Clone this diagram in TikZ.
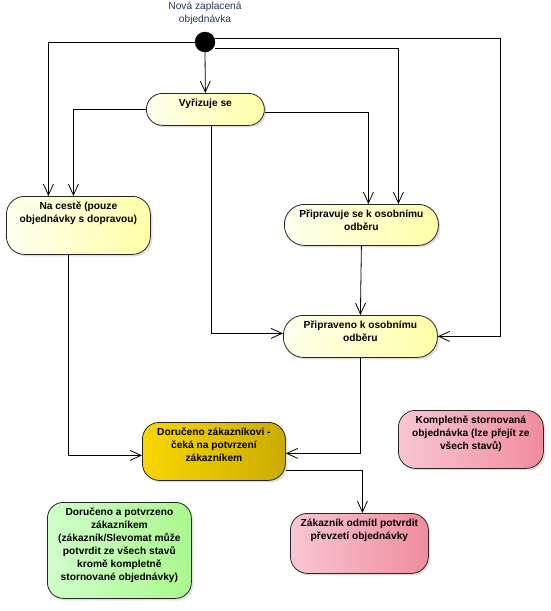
\documentclass[tikz,border=0pt]{standalone}
\usepackage{fontspec}
\setmainfont{Liberation Sans}
\usetikzlibrary{arrows.meta, calc, shadows}
\definecolor{ylwL}{RGB}{255,255,238}
\definecolor{ylwR}{RGB}{255,255,168}
\definecolor{goldL}{RGB}{250,214,0}
\definecolor{goldR}{RGB}{202,172,0}
\definecolor{pinkL}{RGB}{249,198,210}
\definecolor{pinkR}{RGB}{240,140,158}
\definecolor{grnL}{RGB}{208,255,202}
\definecolor{grnR}{RGB}{170,248,142}
\definecolor{titlecol}{RGB}{40,52,92}
\newcommand{\sttext}[3]{\parbox[c][#2][t]{#1}{\centering\rule{0pt}{9.5pt}#3}}
\tikzset{
    state/.style = {draw=black!85, line width=0.8pt, inner sep=4pt, anchor=north west,
        font=\fontsize{10.2}{13}\selectfont\bfseries,
        drop shadow={shadow xshift=2pt, shadow yshift=-2pt, opacity=0.25}},
    ylw/.style = {state, left color=ylwL, right color=ylwR},
    gold/.style = {state, left color=goldL, right color=goldR},
    pink/.style = {state, left color=pinkL, right color=pinkR},
    grn/.style = {state, left color=grnL, right color=grnR},
    arr/.style = {line width=0.8pt, -{Straight Barb[length=11pt, width=10pt]}}
}
\begin{document}
\begin{tikzpicture}[x=1pt, y=-1pt]
        \useasboundingbox (0,0) rectangle (551,611);
        \node[circle, fill=black, draw=black, minimum size=20pt, inner sep=0pt] (start) at (205,42) {};
        \node[align=center, text=titlecol, font=\fontsize{10.2}{12.5}\selectfont] (title) at (205,13.5) {Nová zaplacená\\objednávka};
        \node[ylw, rounded corners=16pt] (vyr) at (146,93) {\sttext{110pt}{24pt}{Vyřizuje se}};
        \node[ylw, rounded corners=18pt] (nacs) at (6,196) {\sttext{136pt}{50pt}{Na cestě (pouze\\objednávky s dopravou)}};
        \node[ylw, rounded corners=20pt] (prip1) at (284,204) {\sttext{146pt}{33pt}{Připravuje se k osobnímu\\odběru}};
        \node[ylw, rounded corners=20pt] (prip2) at (283,315) {\sttext{146pt}{34pt}{Připraveno k osobnímu\\odběru}};
        \node[gold, rounded corners=17pt] (dor) at (142,422) {\sttext{135pt}{50pt}{Doručeno zákazníkovi -\\čeká na potvrzení\\zákazníkem}};
        \node[pink, rounded corners=17pt] (storno) at (398,410) {\sttext{137pt}{50pt}{Kompletně stornovaná\\objednávka (lze přejít ze\\všech stavů)}};
        \node[pink, rounded corners=17pt] (odm) at (290,513) {\sttext{130pt}{52pt}{Zákazník odmítl potvrdit\\převzetí objednávky}};
        \node[grn, rounded corners=16pt] (potv) at (47,502) {\sttext{136pt}{88pt}{Doručeno a potvrzeno\\zákazníkem\\(zákazník/Slevomat může\\potvrdit ze všech stavů\\kromě kompletně\\stornované objednávky)}};
        \draw[arr] (start.south) -- (vyr.north);
        \draw[arr] (start.west) -| ([xshift=-30pt]nacs.north);
        \draw[arr] ([yshift=4pt]start.east) -| ($(prip2.east)+(63,0)$) -- (prip2.east);
        \draw[arr] ([yshift=-6pt]start.east) -| ([xshift=37pt]prip1.north);
        \draw[arr] (vyr.west) -| ([xshift=-5pt]nacs.north);
        \draw[arr] ([yshift=-3pt]vyr.east) -| ([xshift=7pt]prip1.north);
        \draw[arr] ([xshift=6pt]vyr.south) |- ([yshift=3pt]prip2.west);
        \draw[arr] (prip1.south) -- (prip2.north);
        \draw[arr] ([xshift=-10pt]nacs.south) |- ([yshift=-4pt]dor.west);
        \draw[arr] (prip2.south) |- ([yshift=-2pt]dor.east);
        \draw[arr] ([yshift=-19pt]dor.east) -| ([xshift=3pt]odm.north);
\end{tikzpicture}
\end{document}
